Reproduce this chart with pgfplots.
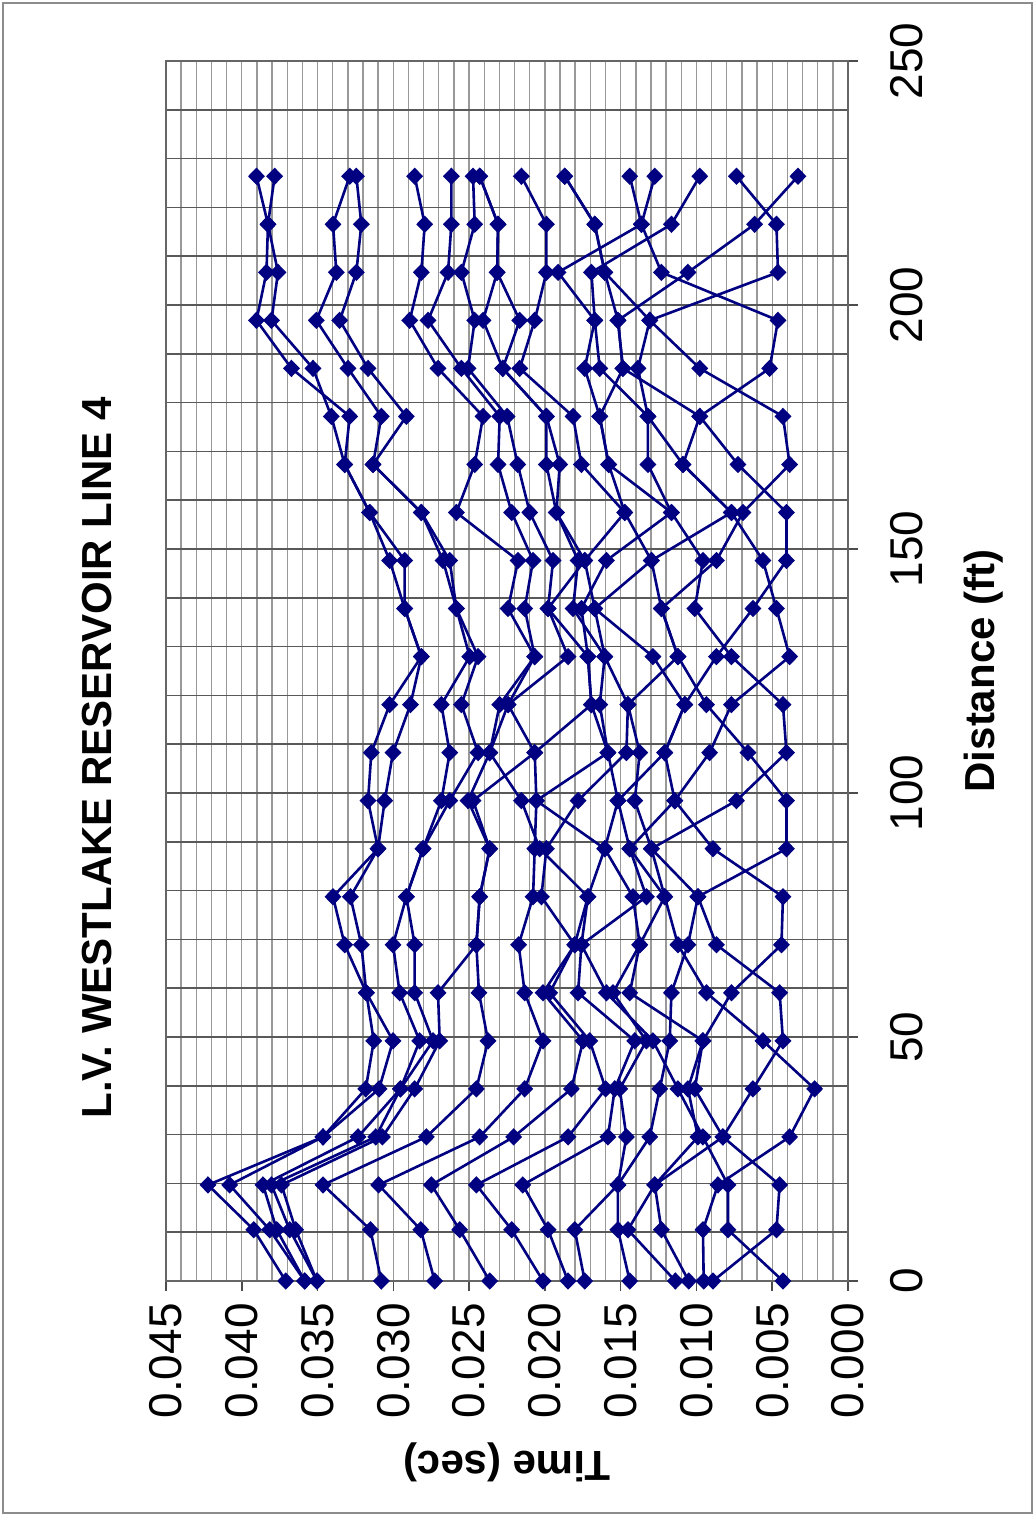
\documentclass[border=0pt]{standalone}
\usepackage{pgfplots}
\pgfplotsset{compat=1.18}
\usepackage{pgfplotstable}
\usepackage{fontspec}
\setmainfont{Liberation Sans}
\definecolor{navy}{RGB}{0,0,128}

\pgfplotstableread{
d L1 L2 L3 L4 S0 S1 S2 S3 S4 S5 S6 S7 S8 S9 S10 S11 S12
0 37.10 35.85 35.85 35.04 4.29 8.91 9.52 10.51 11.39 14.40 17.37 18.47 20.12 23.64 27.27 30.79 35.04
10.5 39.21 38.16 37.69 36.84 7.92 4.72 9.57 12.31 14.52 15.18 18.03 19.79 22.19 25.62 28.19 31.51 36.44
19.69 42.23 40.80 38.60 38.04 7.92 4.51 8.58 12.75 12.75 15.18 15.18 21.46 24.52 27.49 30.97 34.64 37.38
29.53 34.64 34.64 32.33 31.16 9.57 8.25 3.85 8.25 9.90 13.08 14.62 15.84 18.47 22.06 24.30 27.82 30.72
39.37 31.82 30.94 29.53 29.53 11.22 10.11 2.20 6.27 10.56 12.42 15.06 15.39 15.99 18.25 21.33 24.52 28.59
49.21 31.29 30.02 28.26 27.38 12.87 9.57 5.61 4.29 9.57 11.76 13.30 14.07 17.04 17.48 20.12 23.75 26.94
59.06 31.78 31.78 29.58 28.59 15.94 14.40 9.34 4.51 7.69 11.65 15.51 17.81 19.68 20.12 21.33 24.35 27.05
68.90 33.21 32.11 30.02 28.59 17.59 13.74 11.22 8.68 4.39 10.56 13.74 17.59 18.03 18.03 21.73 24.52 24.52
78.74 33.98 32.83 29.14 29.14 17.16 14.19 12.09 9.90 4.29 9.90 12.09 13.30 17.16 20.23 20.78 24.30 24.30
88.58 31.01 31.01 28.04 28.04 20.34 16.05 14.40 12.97 8.91 4.06 12.97 14.40 16.05 19.90 20.67 23.64 23.64
98.43 31.67 30.57 26.83 26.28 21.55 20.56 15.18 14.07 11.43 4.06 7.36 11.43 15.18 17.81 20.56 24.74 25.07
108.27 31.45 30.02 26.28 24.41 23.64 20.67 15.84 13.74 12.09 6.60 4.06 9.13 12.09 14.62 15.84 20.67 23.64
118.11 30.24 28.87 26.83 25.51 22.98 22.43 16.93 14.52 10.77 9.34 4.29 7.69 10.77 14.52 16.38 16.93 22.43
127.95 28.15 28.15 24.96 24.41 20.67 20.67 17.16 16.05 12.87 11.22 7.69 3.85 8.68 11.22 16.05 17.16 18.47
137.80 29.25 29.25 25.84 25.84 22.43 21.33 19.79 18.14 16.71 12.31 10.11 4.72 6.27 12.31 16.71 17.59 19.79
147.64 30.24 29.25 26.72 26.28 21.77 20.78 19.46 17.81 17.37 12.97 9.57 5.61 4.06 8.68 12.97 15.94 17.37
157.48 31.56 31.56 28.15 28.15 25.84 22.19 21.00 19.24 19.24 14.73 11.65 7.69 4.06 6.93 7.69 11.65 14.73
167.32 33.21 33.21 31.34 31.34 24.63 23.09 21.79 19.90 19.02 17.59 15.79 10.89 7.26 3.85 10.89 13.20 15.79
177.17 32.88 34.09 30.79 29.14 24.08 22.98 22.49 19.90 19.90 18.14 16.38 13.20 9.78 4.29 9.78 13.20 16.38
187.01 36.72 35.30 32.99 31.67 27.05 25.51 25.07 22.78 22.78 21.66 17.37 16.38 14.85 9.78 5.17 13.86 14.85
196.85 39.03 38.04 35.08 33.54 28.92 27.71 24.63 24.08 21.66 20.67 16.71 16.71 15.18 13.08 4.62 13.08 15.18
206.69 38.37 37.61 33.76 32.44 28.15 26.39 25.51 23.15 23.15 19.90 19.13 16.93 16.05 16.05 12.31 4.62 10.56
216.54 38.27 38.27 33.98 32.11 27.93 26.17 24.63 23.09 23.09 19.90 13.63 11.65 16.71 16.71 13.63 4.72 6.16
226.38 39.03 37.83 32.88 32.44 28.59 26.17 24.74 24.30 24.30 21.55 14.40 9.78 18.69 18.69 12.75 7.36 3.30
}\data

\begin{document}
\begin{tikzpicture}[x=1pt,y=1pt]
\path (0,0) rectangle (517.5,758);
\draw[black!45, line width=1pt] (1.5,1.5) rectangle (516,756.5);
\begin{axis}[
  at={(83pt,117.5pt)}, anchor=south west,
  scale only axis, width=341pt, height=610pt,
  x dir=reverse,
  xmin=0, xmax=45, ymin=0, ymax=250,
  xtick={0,5,...,45},
  xticklabels={0.000,0.005,0.010,0.015,0.020,0.025,0.030,0.035,0.040,0.045},
  minor x tick num=4,
  ytick={0,50,...,250},
  minor y tick num=4,
  xtick pos=left, ytick pos=right,
  yticklabel pos=right,
  tick align=outside,
  major tick length=5pt, minor tick length=0pt,
  tick style={black!70, line width=0.8pt},
  grid=both,
  major grid style={black!40, line width=0.7pt},
  minor grid style={black!40, line width=0.7pt},
  every axis y grid/.style={black!65, line width=0.8pt},
  axis line style={black!60, line width=1.2pt},
  /pgf/number format/assume math mode=true,
  xticklabel style={rotate=90, anchor=east, inner sep=0pt, font=\fontsize{23}{23}\selectfont},
  yticklabel style={rotate=90, anchor=north, inner sep=0pt, font=\fontsize{23}{23}\selectfont},
  xticklabel shift=6pt,
  yticklabel shift=16pt,
  clip=false,
  ser/.style={color=navy, line width=1.3pt, mark=diamond*, mark size=3.4pt, mark options={solid, fill=navy, xscale=1.3}},
]
\pgfplotsinvokeforeach{L1,L2,L3,L4,S0,S1,S2,S3,S4,S5,S6,S7,S8,S9,S10,S11,S12}{
  \addplot[ser] table[x=#1, y=d] {\data};
}
\end{axis}
\node[rotate=90, font=\bfseries\fontsize{21}{21}\selectfont] at (48.5,379) {L.V. WESTLAKE RESERVOIR LINE 4};
\node[rotate=90, font=\bfseries\fontsize{21}{21}\selectfont] at (492,422.5) {Distance (ft)};
\node[rotate=180, font=\bfseries\fontsize{21}{21}\selectfont] at (253.5,27) {Time (sec)};
\end{tikzpicture}
\end{document}
